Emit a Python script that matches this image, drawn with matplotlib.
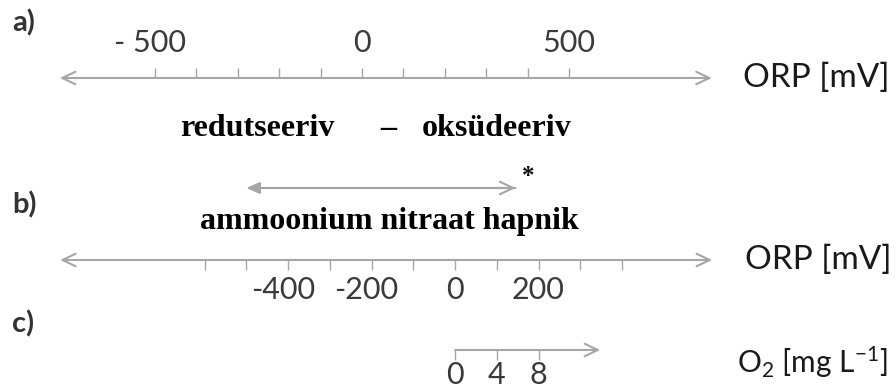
import matplotlib
matplotlib.use("Agg")
import matplotlib.pyplot as plt
import numpy as np

# ---------------- data ----------------
orp_a_ticks = list(range(-500, 501, 100))
orp_a_label_vals = [-500, 0, 500]
orp_a_label_txt = ["- 500", "0", "500"]
orp_a_range = (-730, 845)

orp_b_ticks = list(range(-600, 401, 100))
orp_b_label_vals = [-400, -200, 0, 200]
orp_b_label_txt = ["-400", "-200", "0", "200"]
orp_b_range = (-946, 616)
species_range = (-500, 145)   # ammoonium ... hapnik
star_value = 175

o2_ticks = [0, 4, 8]
o2_label_txt = ["0", "4", "8"]
o2_range = (0, 13.9)

W, H = 896, 388
LINE = "#a6a6a6"
TICKTXT = "#3a3a3a"
SANS = "Lato"
SERIF = "Liberation Serif"

plt.rcParams["mathtext.fontset"] = "custom"
plt.rcParams["mathtext.rm"] = SANS
plt.rcParams["mathtext.it"] = SANS

fig = plt.figure(figsize=(W / 100, H / 100), dpi=100)
fig.patch.set_facecolor("white")


def scale_ax(zero_px, px_per_unit):
    ax = fig.add_axes([0, 0, 1, 1])
    ax.set_xlim(-zero_px / px_per_unit, (W - zero_px) / px_per_unit)
    ax.set_ylim(H, 0)
    ax.axis("off")
    ax.patch.set_alpha(0)
    return ax


def axis_arrow(ax, lo, hi, y, style="<->"):
    ax.annotate("", xy=(hi, y), xytext=(lo, y),
                arrowprops=dict(arrowstyle=f"{style},head_length=0.95,head_width=0.45",
                                color=LINE, lw=1.5, shrinkA=0, shrinkB=0,
                                mutation_scale=10))


def tick_label(ax, v, y, t):
    dx = -5 if t.startswith("-") else 0
    ax.annotate(t, (v, y), xytext=(dx, 0), textcoords="offset pixels",
                ha="center", va="center", fontsize=22, family=SANS,
                color=TICKTXT)


# ---- panel a ----
axa = scale_ax(362, 0.414)
ya = 78
axis_arrow(axa, orp_a_range[0], orp_a_range[1], ya)
axa.vlines(orp_a_ticks, ya - 10, ya, color=LINE, lw=1.0)
for v, t in zip(orp_a_label_vals, orp_a_label_txt):
    tick_label(axa, v, 43, t)

# ---- panel b ----
axb = scale_ax(455, 0.4175)
yb = 260
axis_arrow(axb, orp_b_range[0], orp_b_range[1], yb)
axb.vlines(orp_b_ticks, yb, yb + 10, color=LINE, lw=1.0)
for v, t in zip(orp_b_label_vals, orp_b_label_txt):
    tick_label(axb, v, 290, t)
# species range arrow
axb.annotate("", xy=(species_range[0], 188), xytext=(species_range[1], 188),
             arrowprops=dict(arrowstyle="-|>,head_length=0.8,head_width=0.35",
                             color=LINE, lw=1.5, shrinkA=0, shrinkB=0,
                             mutation_scale=10))
axb.annotate("", xy=(species_range[1], 188), xytext=(species_range[0] + 20, 188),
             arrowprops=dict(arrowstyle="->,head_length=0.95,head_width=0.45",
                             color=LINE, lw=1.5, shrinkA=0, shrinkB=0,
                             mutation_scale=10))
axb.text(star_value, 177, "*", ha="center", va="center", fontsize=18,
         family=SERIF, weight="bold", color="#111111")

# ---- panel c ----
axc = scale_ax(455, 10.45)
yc = 350
axis_arrow(axc, o2_range[0], o2_range[1], yc, style="->")
axc.vlines(o2_ticks, yc, yc + 10, color=LINE, lw=1.0)
for v, t in zip(o2_ticks, o2_label_txt):
    tick_label(axc, v, 375, t)

# ---- text layer (pixel coordinates) ----
axt = fig.add_axes([0, 0, 1, 1])
axt.set_xlim(0, W)
axt.set_ylim(H, 0)
axt.axis("off")
axt.patch.set_alpha(0)

for lab, y in (("a)", 23), ("b)", 205), ("c)", 324)):
    axt.text(12, y, lab, ha="left", va="center", fontsize=21, family=SANS,
             weight="bold", color="#333333")

axt.text(743, ya, "ORP [mV]", ha="left", va="center", fontsize=24,
         family=SANS, color="#1a1a1a")
axt.text(745, yb, "ORP [mV]", ha="left", va="center", fontsize=24,
         family=SANS, color="#1a1a1a")
axt.text(737, 362, r"O$_{2}$ [mg L$^{\mathrm{-1}}$]", ha="left", va="center",
         fontsize=21.5, family=SANS, color="#1a1a1a")

axt.text(180, 128, "redutseeriv", ha="left", va="center", fontsize=23,
         family=SERIF, weight="bold", color="black")
axt.text(388, 128, "\u2013", ha="center", va="center", fontsize=23,
         family=SERIF, weight="bold", color="black")
axt.text(422, 128, "oksüdeeriv", ha="left", va="center", fontsize=23,
         family=SERIF, weight="bold", color="black")
axt.text(200, 222, "ammoonium nitraat hapnik", ha="left", va="center",
         fontsize=23, family=SERIF, weight="bold", color="black")

fig.savefig("out.png", dpi=100, facecolor="white")
